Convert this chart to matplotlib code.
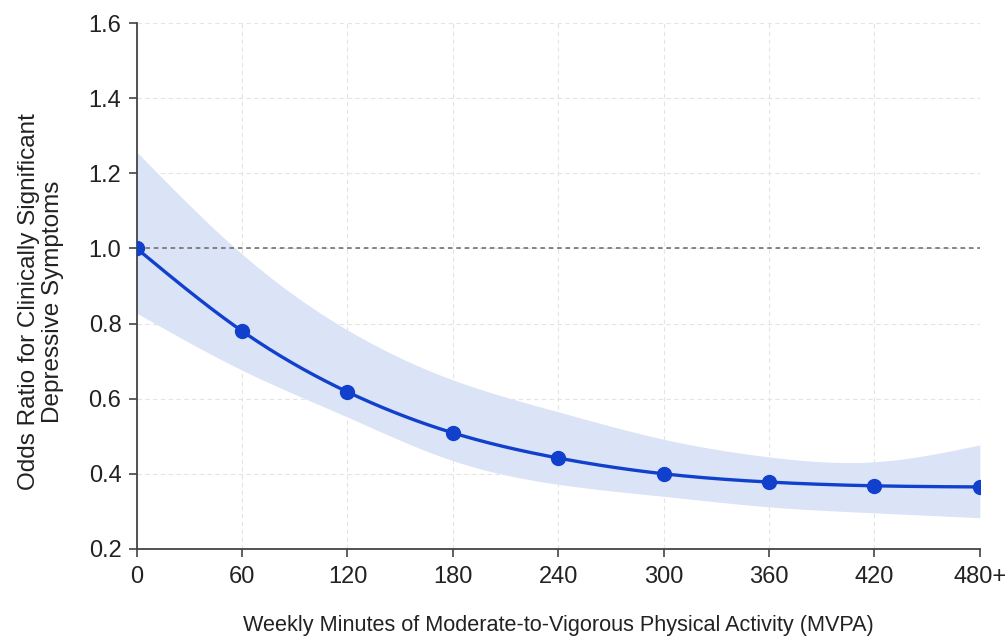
import numpy as np
import matplotlib
matplotlib.use('Agg')
import matplotlib.pyplot as plt

# ------------------------------------------------------------------
# data
# ------------------------------------------------------------------
minutes = [0, 60, 120, 180, 240, 300, 360, 420, 480]
tick_labels = ['0', '60', '120', '180', '240', '300', '360', '420', '480+']
odds_ratio = [1.00, 0.78, 0.618, 0.509, 0.442, 0.400, 0.378, 0.368, 0.365]
ci_lower = [0.828, 0.676, 0.551, 0.435, 0.372, 0.340, 0.312, 0.296, 0.283]
ci_upper = [1.257, 0.985, 0.783, 0.650, 0.565, 0.492, 0.445, 0.432, 0.477]
y_ticks = [0.2, 0.4, 0.6, 0.8, 1.0, 1.2, 1.4, 1.6]

LINE_BLUE = '#1141cc'
BAND_BLUE = '#dbe3f7'
FONT = 'Liberation Sans'


def smooth(x, y, n=300):
    # natural cubic spline, only used to draw a smooth path through the points
    x = np.asarray(x, float)
    y = np.asarray(y, float)
    k = len(x)
    h = np.diff(x)
    A = np.zeros((k, k))
    b = np.zeros(k)
    A[0, 0] = A[-1, -1] = 1
    for i in range(1, k - 1):
        A[i, i - 1] = h[i - 1]
        A[i, i] = 2 * (h[i - 1] + h[i])
        A[i, i + 1] = h[i]
        b[i] = 6 * ((y[i + 1] - y[i]) / h[i] - (y[i] - y[i - 1]) / h[i - 1])
    M = np.linalg.solve(A, b)
    xs = np.linspace(x[0], x[-1], n)
    idx = np.clip(np.searchsorted(x, xs) - 1, 0, k - 2)
    x0, x1 = x[idx], x[idx + 1]
    hh = x1 - x0
    t0, t1 = x1 - xs, xs - x0
    ys = (M[idx] * t0 ** 3 / (6 * hh) + M[idx + 1] * t1 ** 3 / (6 * hh)
          + (y[idx] / hh - M[idx] * hh / 6) * t0
          + (y[idx + 1] / hh - M[idx + 1] * hh / 6) * t1)
    return xs, ys


fig = plt.figure(figsize=(10.05, 6.42), dpi=100)
ax = fig.add_axes([0.136, 0.145, 0.839, 0.819])

xs, lo = smooth(minutes, ci_lower)
_, hi = smooth(minutes, ci_upper)
_, mid = smooth(minutes, odds_ratio)

ax.fill_between(xs, lo, hi, color=BAND_BLUE, linewidth=0, zorder=1)
ax.axhline(1.0, color='#666666', linestyle=(0, (3, 2.5)), linewidth=1.1, zorder=2)
ax.plot(xs, mid, color=LINE_BLUE, linewidth=2.4, zorder=3, solid_capstyle='round')
ax.plot(minutes, odds_ratio, 'o', color=LINE_BLUE, markersize=10, zorder=4)

ax.set_xlim(0, 480)
ax.set_ylim(0.2, 1.6)
ax.set_xticks(minutes)
ax.set_xticklabels(tick_labels)
ax.set_yticks(y_ticks)
ax.set_yticklabels([f'{v:.1f}' for v in y_ticks])

for lab in ax.get_xticklabels() + ax.get_yticklabels():
    lab.set_fontfamily(FONT)
    lab.set_fontsize(17)
    lab.set_color('#222222')

ax.tick_params(direction='out', length=6, width=1.2, color='#444444')
ax.tick_params(axis='x', pad=6)
ax.tick_params(axis='y', pad=5)
for s in ['top', 'right']:
    ax.spines[s].set_visible(False)
for s in ['left', 'bottom']:
    ax.spines[s].set_color('#444444')
    ax.spines[s].set_linewidth(1.3)

ax.grid(True, color='#e4e4e4', linestyle=(0, (4, 3)), linewidth=0.8, zorder=0)
ax.set_axisbelow(True)

ax.set_xlabel('Weekly Minutes of Moderate-to-Vigorous Physical Activity (MVPA)',
              fontfamily=FONT, fontsize=15.6, color='#222222', labelpad=20)
ax.set_ylabel('Odds Ratio for Clinically Significant\nDepressive Symptoms',
              fontfamily=FONT, fontsize=17.5, color='#222222', linespacing=1.15)
ax.yaxis.set_label_coords(-0.086, 0.47)

fig.savefig('out.png', dpi=100)
